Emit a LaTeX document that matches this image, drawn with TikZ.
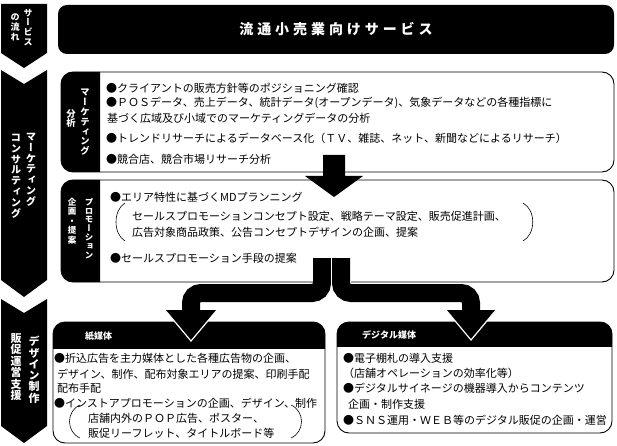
\documentclass[tikz,border=0pt]{standalone}
\usepackage{fontspec}
\setmainfont{Noto Sans CJK JP}
\newfontfamily\tatefont{Noto Sans CJK JP}[RawFeature=+vert]

\begin{document}
\begin{tikzpicture}[x=1pt, y=-1pt,
  txt/.style={anchor=west, inner sep=0pt, font=\fontsize{11}{13}\selectfont},
  tate/.style 2 args={anchor=north, align=center, inner sep=0pt, text=white,
    font=\tatefont\bfseries\fontsize{#1}{#2}\selectfont},
  head/.style={anchor=west, inner sep=0pt, text=white, font=\bfseries\fontsize{9}{11}\selectfont},
  frame/.style={draw, fill=white, line width=0.9pt, rounded corners=12pt},
  flow/.style={line width=18pt, rounded corners=10pt},
  paren/.style={line width=0.6pt}]

\useasboundingbox (0,0) rectangle (617,446);

% left column
\fill (1,4) -- (47,4) -- (47,53) -- (24,68) -- (1,53) -- cycle;
\fill (1,70) -- (24,84) -- (47,70) -- (47,280) -- (24,297) -- (1,280) -- cycle;
\fill (1,299) -- (24,313) -- (47,299) -- (47,426) -- (24,443) -- (1,426) -- cycle;
\node[tate={9}{9.6}] (sv1) at (28,9) {サ\\ー\\ビ\\ス};
\node[tate={9}{9.6}] (sv2) at (15,14) {の\\流\\れ};
\node[tate={10.3}{10.8}] (mc1) at (31,133) {マ\\ー\\ケ\\テ\\ィ\\ン\\グ};
\node[tate={10.3}{10.8}] (mc2) at (16,134) {コ\\ン\\サ\\ル\\テ\\ィ\\ン\\グ};
\node[tate={11}{11.3}] (ds1) at (34,336) {デ\\ザ\\イ\\ン\\制\\作};
\node[tate={11}{11.5}] (ds2) at (16,333) {販\\促\\運\\営\\支\\援};

% banner
\node[fill=black, rounded corners=9pt, minimum width=556pt, minimum height=49pt,
  inner sep=0pt, text=white,
  font=\bfseries\fontsize{14}{16}\selectfont\addfontfeatures{LetterSpace=28}]
  (svc) at (336,29.5) {流通小売業向けサービス};

% marketing box
\draw[frame] (61,72) rectangle (614,172);
\begin{scope}
  \clip (61,72) rectangle (100,172);
  \fill[rounded corners=12pt] (61,72) rectangle (130,172);
\end{scope}
\node[tate={9.3}{9.8}] (ma1) at (85,89) {マ\\ー\\ケ\\テ\\ィ\\ン\\グ};
\node[tate={9.3}{9.8}] (ma2) at (71,109) {分\\析};

% promotion box
\draw[frame] (61,180) rectangle (614,282);
\begin{scope}
  \clip (61,180) rectangle (100,282);
  \fill[rounded corners=12pt] (61,180) rectangle (130,282);
\end{scope}
\node[tate={8.5}{8.8}] (pr1) at (89,198) {プ\\ロ\\モ\\ー\\シ\\ョ\\ン};
\node[tate={8.5}{9.4}] (pr2) at (72,198) {企\\画\\・\\提\\案};

% arrow between the two
\fill (323,155) -- (345,155) -- (345,176) -- (363,176) -- (334,197)
  -- (305,176) -- (323,176) -- cycle;

% media boxes
\draw[frame] (53,322) rectangle (325,443);
\begin{scope}
  \clip (53,322) rectangle (325,348);
  \fill[rounded corners=12pt] (53,322) rectangle (325,443);
\end{scope}
\draw[frame] (337,322) rectangle (612,433);
\begin{scope}
  \clip (337,322) rectangle (612,346);
  \fill[rounded corners=12pt] (337,322) rectangle (612,433);
\end{scope}
\node[head] (pprh) at (85,336) {紙媒体};
\node[head] (dgth) at (362,335) {デジタル媒体};

% split arrow
\draw[flow] (322,258) -- (322,293) -- (191,293) -- (191,311);
\draw[flow, white, line width=20pt] (341,258) -- (341,293) -- (471,293) -- (471,311);
\draw[flow] (341,258) -- (341,293) -- (471,293) -- (471,311);
\fill (165,310) -- (217,310) -- (191,341) -- cycle;
\draw[white, line width=1.2pt] (165,310) -- (191,341) -- (217,310);
\fill (446,310) -- (496,310) -- (471,340) -- cycle;
\draw[white, line width=1.2pt] (446,310) -- (471,340) -- (496,310);

% marketing text
\node[txt] (mk1) at (106,88) {●クライアントの販売方針等のポジショニング確認};
\node[txt] (mk2) at (106,103) {●ＰＯＳデータ、売上データ、統計データ(オープンデータ)、気象データなどの各種指標に};
\node[txt] (mk3) at (107,118) {基づく広域及び小域でのマーケティングデータの分析};
\node[txt] (mk4) at (106,138) {●トレンドリサーチによるデータベース化（ＴＶ、雑誌、ネット、新聞などによるリサーチ）};
\node[txt] (mk5) at (106,159) {●競合店、競合市場リサーチ分析};

% promotion text
\node[txt] (pt1) at (110,197) {●エリア特性に基づくMDプランニング};
\node[txt] (pt2) at (132,216) {セールスプロモーションコンセプト設定、戦略テーマ設定、販売促進計画、};
\node[txt] (pt3) at (132,232) {広告対象商品政策、公告コンセプトデザインの企画、提案};
\node[txt] (pt4) at (110,258) {●セールスプロモーション手段の提案};
\draw[paren] (125,203) .. controls (113,210) and (113,234) .. (125,241);
\draw[paren] (523,203) .. controls (536,210) and (536,234) .. (523,241);

% paper media text
\node[txt] (pp1) at (54,358) {●折込広告を主力媒体とした各種広告物の企画、};
\node[txt] (pp2) at (57,374) {デザイン、制作、配布対象エリアの提案、印刷手配};
\node[txt] (pp3) at (57,388) {配布手配};
\node[txt] (pp4) at (54,403) {●インストアプロモーションの企画、デザイン、制作};
\node[txt] (pp5) at (88,418) {店舗内外のＰＯＰ広告、ポスター、};
\node[txt] (pp6) at (88,433) {販促リーフレット、タイトルボード等};
\draw[paren] (80,405) .. controls (66,411) and (66,432) .. (80,438);
\draw[paren] (291,405) .. controls (305,411) and (305,432) .. (291,438);

% digital media text
\node[txt] (dg1) at (343,358) {●電子棚札の導入支援};
\node[txt] (dg2) at (343,373) {（店舗オペレーションの効率化等）};
\node[txt] (dg3) at (343,388) {●デジタルサイネージの機器導入からコンテンツ};
\node[txt] (dg4) at (348,404) {企画・制作支援};
\node[txt] (dg5) at (343,420) {●ＳＮＳ運用・ＷＥＢ等のデジタル販促の企画・運営};
\end{tikzpicture}
\end{document}
